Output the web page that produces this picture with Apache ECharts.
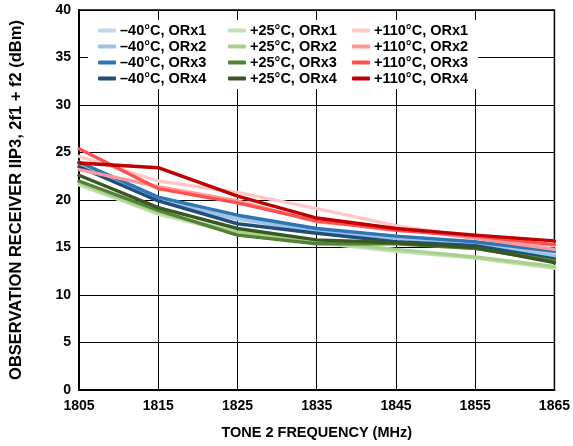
<!DOCTYPE html>
<html><head><meta charset="utf-8">
<script src="https://cdn.jsdelivr.net/npm/echarts@6/dist/echarts.min.js"></script>
<style>html,body{margin:0;padding:0;background:#fff}#c{width:573px;height:446px}</style>
</head><body><div id="c"></div>
<script>
const freqs = [1805, 1815, 1825, 1835, 1845, 1855, 1865];
const yTicks = [0, 5, 10, 15, 20, 25, 30, 35, 40];
const names = [
  "–40°C, ORx1", "–40°C, ORx2", "–40°C, ORx3", "–40°C, ORx4",
  "+25°C, ORx1", "+25°C, ORx2", "+25°C, ORx3", "+25°C, ORx4",
  "+110°C, ORx1", "+110°C, ORx2", "+110°C, ORx3", "+110°C, ORx4"
];
const m40_orx1 = [23.6, 20.2, 18.2, 16.9, 16.2, 15.5, 14.3];
const m40_orx2 = [23.8, 20.0, 18.0, 16.7, 16.0, 15.3, 14.1];
const m40_orx3 = [24.0, 20.3, 18.4, 17.0, 16.2, 15.6, 14.6];
const m40_orx4 = [23.5, 19.9, 17.5, 16.5, 15.6, 15.2, 13.8];
const p25_orx1 = [21.6, 18.5, 16.5, 15.5, 14.6, 13.9, 12.8];
const p25_orx2 = [21.8, 18.7, 16.6, 15.6, 14.8, 14.0, 13.0];
const p25_orx3 = [22.0, 18.9, 16.3, 15.4, 15.4, 14.9, 13.6];
const p25_orx4 = [22.6, 19.2, 17.0, 15.8, 15.5, 15.0, 13.4];
const p110_orx1 = [24.6, 22.0, 20.8, 19.1, 17.3, 16.0, 15.2];
const p110_orx2 = [23.2, 21.4, 19.9, 17.7, 17.0, 16.0, 14.8];
const p110_orx3 = [25.4, 21.2, 19.7, 17.8, 16.8, 16.2, 15.3];
const p110_orx4 = [23.9, 23.4, 20.4, 18.1, 17.0, 16.3, 15.7];
const allData = [m40_orx1, m40_orx2, m40_orx3, m40_orx4, p25_orx1, p25_orx2, p25_orx3, p25_orx4, p110_orx1, p110_orx2, p110_orx3, p110_orx4];
const colors = ["#bdd7ee", "#9dc3e6", "#2e75b6", "#1f4e79",
                "#c5e0b4", "#a9d18e", "#548235", "#385723",
                "#ffc7c7", "#ff9999", "#ff5050", "#c00000"];

const font = "Liberation Sans, Arial, sans-serif";
const series = names.map((n, i) => ({
  name: n, type: 'line', symbol: 'none', z: 3 + i,
  data: freqs.map((f, j) => [f, allData[i][j]]),
  lineStyle: { width: 3.4, color: colors[i], cap: 'round', join: 'round' },
  itemStyle: { color: colors[i] }
}));

const legendBase = {
  orient: 'vertical', top: 20, itemGap: 1, itemWidth: 18, itemHeight: 4,
  icon: 'roundRect', backgroundColor: '#fff',
  textStyle: { fontFamily: font, fontWeight: 'bold', fontSize: 14.5, lineHeight: 15, color: '#000', padding: [0, 0, 0, -1] },
  z: 20
};
const legends = [0, 1, 2].map(k => Object.assign({}, legendBase, {
  left: [88, 220, 344][k],
  data: names.slice(k * 4, k * 4 + 4),
  padding: [3, k === 2 ? 10 : 14, 3, k === 0 ? 10 : 8]
}));

const chart = echarts.init(document.getElementById('c'), null, { renderer: 'canvas' });
chart.setOption({
  animation: false,
  color: colors,
  grid: { left: 78, right: 15, top: 10, bottom: 56, show: true, borderColor: '#000', borderWidth: 1.5 },
  legend: legends,
  xAxis: {
    type: 'value', min: 1805, max: 1865, interval: 10,
    name: 'TONE 2 FREQUENCY (MHz)', nameLocation: 'middle', nameGap: 35,
    nameTextStyle: { fontFamily: font, fontWeight: 'bold', fontSize: 14.5, color: '#000' },
    axisLine: { show: true, lineStyle: { color: '#000', width: 2 } },
    axisTick: { show: false },
    axisLabel: { fontFamily: font, fontWeight: 'bold', fontSize: 14, color: '#000', margin: 9,
      formatter: v => String(v) },
    splitLine: { show: true, lineStyle: { color: '#000', width: 1 } }
  },
  yAxis: {
    type: 'value', min: 0, max: 40, interval: 5,
    name: 'OBSERVATION RECEIVER IIP3, 2f1 + f2 (dBm)', nameLocation: 'middle', nameGap: 54,
    nameTextStyle: { fontFamily: font, fontWeight: 'bold', fontSize: 16.5, color: '#000' },
    axisLine: { show: true, lineStyle: { color: '#000', width: 2 } },
    axisTick: { show: false },
    axisLabel: { fontFamily: font, fontWeight: 'bold', fontSize: 14, color: '#000', margin: 8,
      formatter: v => yTicks.includes(v) ? String(v) : '' },
    splitLine: { show: true, lineStyle: { color: '#000', width: 1 } }
  },
  series: series
});
</script></body></html>
